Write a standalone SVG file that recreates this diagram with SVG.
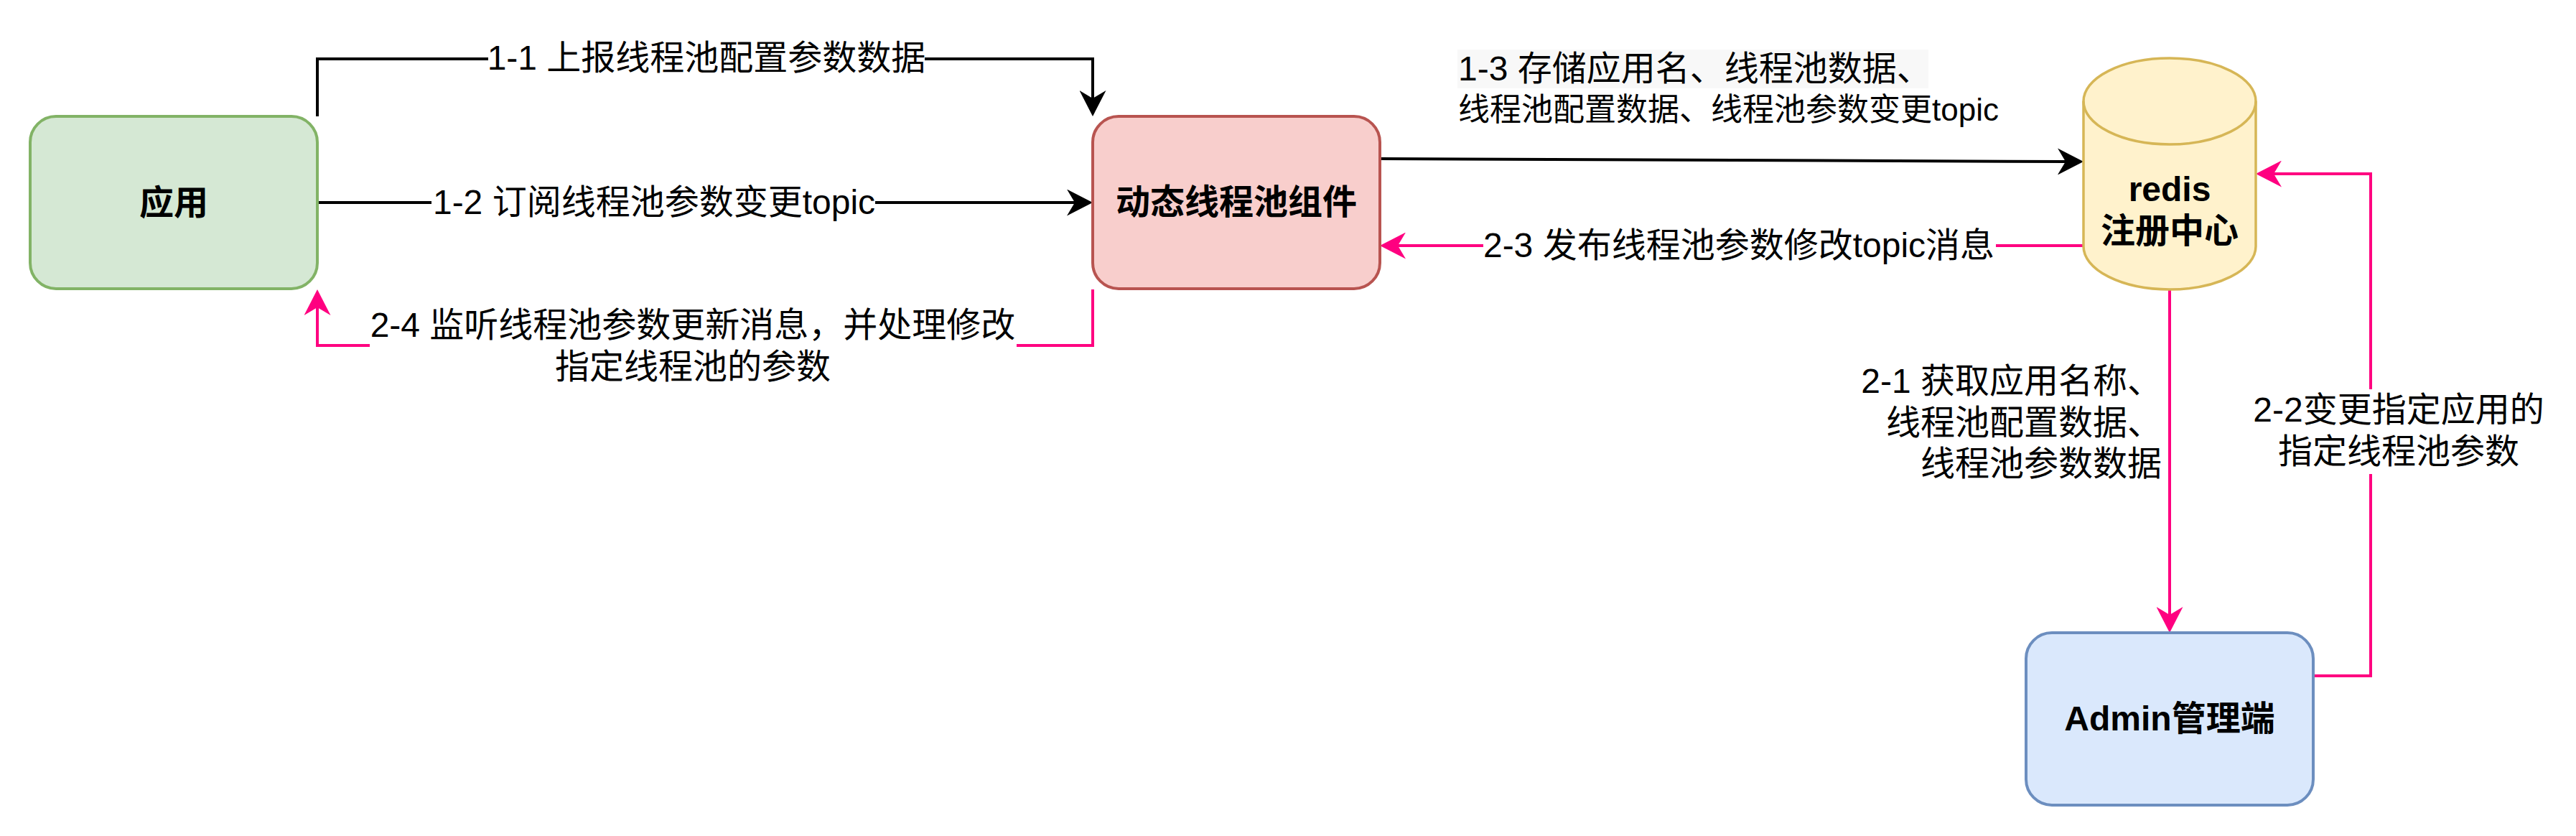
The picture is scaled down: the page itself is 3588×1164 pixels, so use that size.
<svg xmlns="http://www.w3.org/2000/svg" width="3588" height="1164" viewBox="0 0 3588 1164">
<style>
text{font-family:"Liberation Sans","Noto Sans CJK SC",sans-serif;font-size:48px;fill:#000}
.b{font-weight:bold}
.c{text-anchor:middle}
.r{text-anchor:end}
.e{fill:none;stroke-width:4}
.k{stroke:#000}
.p{stroke:#FF0080}
.bg{fill:#fff}
</style>
<defs>
<marker id="ak" viewBox="0 0 36 37" refX="11" refY="18.5" markerWidth="36" markerHeight="37" markerUnits="userSpaceOnUse" orient="auto">
<path d="M0,0 L36,18.5 L0,37 L11,18.5 Z" fill="#000"/>
</marker>
<marker id="ap" viewBox="0 0 36 37" refX="11" refY="18.5" markerWidth="36" markerHeight="37" markerUnits="userSpaceOnUse" orient="auto">
<path d="M0,0 L36,18.5 L0,37 L11,18.5 Z" fill="#FF0080"/>
</marker>
</defs>
<rect width="3588" height="1164" fill="#fff"/>
<g id="connectors">
<path class="e k" d="M442,162 V82 H1522 V137" marker-end="url(#ak)"/>
<path class="e k" d="M442,282 H1497" marker-end="url(#ak)"/>
<path class="e k" d="M1922,221 L2877,225" marker-end="url(#ak)"/>
<path class="e p" d="M2902,342 H1947" marker-end="url(#ap)"/>
<path class="e p" d="M1522,403 V481 H442 V428" marker-end="url(#ap)"/>
<path class="e p" d="M3022,403 V856" marker-end="url(#ap)"/>
<path class="e p" d="M3222,941 H3302 V242 H3167" marker-end="url(#ap)"/>
<g id="labels">
<rect class="bg" x="680" y="56" width="608" height="56"/>
<text class="c" x="984" y="97">1-1 上报线程池配置参数数据</text>
<rect class="bg" x="601" y="256" width="618" height="56"/>
<text class="c" x="911" y="298">1-2 订阅线程池参数变更topic</text>
<rect class="bg" x="515" y="424" width="901" height="116"/>
<text class="c" x="965" y="469">2-4 监听线程池参数更新消息，并处理修改</text>
<text class="c" x="965" y="527">指定线程池的参数</text>
<rect x="2030" y="69" width="656" height="54" fill="#f8f8f8"/>
<text x="2031" y="112">1-3 存储应用名、线程池数据、</text>
<text x="2031" y="168" style="font-size:44px">线程池配置数据、线程池参数变更topic</text>
<rect class="bg" x="2066" y="314" width="714" height="56"/>
<text class="c" x="2422" y="358">2-3 发布线程池参数修改topic消息</text>
<text class="r" x="3011" y="547">2-1 获取应用名称、</text>
<text class="r" x="3011" y="605">线程池配置数据、</text>
<text class="r" x="3011" y="662">线程池参数数据</text>
<rect class="bg" x="3138" y="542" width="406" height="118"/>
<text class="c" x="3341" y="587">2-2变更指定应用的</text>
<text class="c" x="3341" y="645">指定线程池参数</text>
</g>
</g>
<g id="app">
<rect x="42" y="162" width="400" height="240" rx="36" fill="#d5e8d4" stroke="#82b366" stroke-width="4"/>
<text class="b c" x="242" y="299">应用</text>
</g>
<g id="dtp">
<rect x="1522" y="162" width="400" height="240" rx="36" fill="#f8cecc" stroke="#b85450" stroke-width="4"/>
<text class="b c" x="1722" y="298">动态线程池组件</text>
</g>
<g id="redis">
<path d="M2902,141 A120,60 0 0 1 3142,141 V343 A120,60 0 0 1 2902,343 Z" fill="#fff2cc" stroke="#d6b656" stroke-width="3.5"/>
<path d="M2902,141 A120,60 0 0 0 3142,141" fill="none" stroke="#d6b656" stroke-width="3.5"/>
<text class="b c" x="3022" y="280">redis</text>
<text class="b c" x="3022" y="338">注册中心</text>
</g>
<g id="admin">
<rect x="2822" y="881" width="400" height="240" rx="36" fill="#dae8fc" stroke="#6c8ebf" stroke-width="4"/>
<text class="b c" x="3022" y="1017">Admin管理端</text>
</g>
</svg>
